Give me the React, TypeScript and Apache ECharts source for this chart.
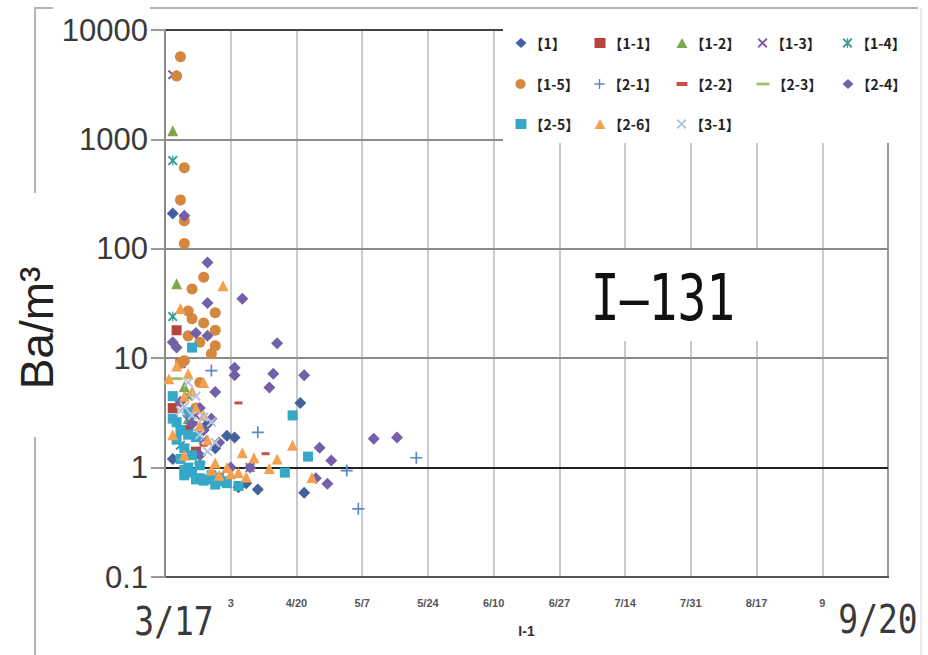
import React, { useEffect, useRef } from "react";
import * as echarts from "echarts";

// ---- data ----
const seriesNames = ["【1】", "【1-1】", "【1-2】", "【1-3】", "【1-4】", "【1-5】", "【2-1】", "【2-2】", "【2-3】", "【2-4】", "【2-5】", "【2-6】", "【3-1】"];

const s_1: [string, number][] = [["3/19", 210], ["3/19", 1.2], ["3/24", 3.2], ["3/26", 2.2], ["3/28", 2.5], ["3/30", 1.5], ["4/2", 1.95], ["4/4", 1.88], ["4/5", 0.66], ["4/7", 0.72], ["4/10", 0.63], ["4/21", 3.9], ["4/22", 0.59]];
const s_1_1: [string, number][] = [["3/19", 3.5], ["3/20", 18], ["3/21", 9], ["3/25", 1.4], ["3/23", 2.2]];
const s_1_2: [string, number][] = [["3/19", 1200], ["3/20", 48], ["3/23", 2.8], ["3/22", 5.5]];
const s_1_3: [string, number][] = [["3/19", 3900], ["3/25", 3.0], ["3/27", 1.8], ["4/8", 1.0]];
const s_1_4: [string, number][] = [["3/19", 640], ["3/19", 24], ["3/23", 4.5], ["3/21", 1.6]];
const s_1_5: [string, number][] = [["3/21", 5700], ["3/20", 3800], ["3/22", 550], ["3/21", 280], ["3/22", 180], ["3/22", 112], ["3/27", 55], ["3/24", 43], ["3/30", 26], ["3/24", 23], ["3/27", 21], ["3/30", 18], ["3/30", 13], ["3/29", 11], ["3/22", 9.5], ["3/26", 6], ["3/25", 3.5], ["3/23", 16], ["3/23", 27], ["3/26", 14], ["3/21", 9]];
const s_2_1: [string, number][] = [["3/24", 2.6], ["3/29", 7.7], ["4/10", 2.1], ["5/3", 0.94], ["5/6", 0.42], ["5/21", 1.23]];
const s_2_2: [string, number][] = [["3/27", 1.6], ["4/5", 3.9], ["4/12", 1.34]];
const s_2_3: [string, number][] = [["3/20", 6.5], ["3/26", 1.1], ["3/24", 1.9]];
const s_2_4: [string, number][] = [["3/22", 200], ["3/28", 75], ["4/6", 35], ["3/28", 32], ["3/25", 17], ["3/28", 16], ["3/20", 12.5], ["4/4", 8.2], ["4/4", 7], ["4/14", 7.2], ["4/13", 5.4], ["4/15", 13.7], ["3/30", 4.9], ["4/22", 7], ["5/10", 1.84], ["5/16", 1.88], ["4/26", 1.52], ["4/29", 1.16], ["4/25", 0.8], ["4/28", 0.71], ["3/24", 2.5], ["3/26", 3.5], ["3/29", 2.8], ["4/8", 1.0], ["3/19", 14], ["3/23", 3.0], ["3/27", 2.2], ["3/31", 1.7], ["3/21", 4.0], ["3/26", 1.3], ["4/3", 1.0]];
const s_2_5: [string, number][] = [["3/19", 4.5], ["3/20", 2.6], ["3/21", 2.2], ["3/22", 1.5], ["3/23", 1.0], ["3/23", 3.2], ["3/24", 12.5], ["3/24", 0.9], ["3/25", 1.9], ["3/26", 0.8], ["3/27", 0.76], ["3/29", 0.85], ["3/31", 0.81], ["4/2", 0.72], ["4/5", 0.68], ["4/17", 0.9], ["4/19", 3.0], ["4/23", 1.26], ["3/22", 0.95], ["3/25", 0.78], ["3/21", 1.2], ["3/22", 0.85], ["3/24", 1.3], ["3/26", 1.05], ["3/28", 0.78], ["3/20", 1.8], ["3/23", 2.0], ["4/1", 0.75], ["3/30", 0.7], ["3/19", 2.8]];
const s_2_6: [string, number][] = [["4/1", 46], ["3/21", 28.5], ["3/20", 8.5], ["3/23", 7.2], ["3/27", 6.0], ["3/25", 3.5], ["3/26", 2.4], ["3/28", 1.8], ["3/30", 1.1], ["4/3", 0.88], ["4/6", 1.37], ["4/9", 1.23], ["4/13", 0.98], ["4/15", 1.2], ["4/19", 1.6], ["4/24", 0.81], ["4/5", 0.9], ["3/18", 6.5], ["3/29", 0.95], ["3/22", 4.5], ["3/24", 5.0], ["3/27", 3.0], ["3/31", 0.85], ["4/2", 1.0], ["4/7", 0.82], ["3/19", 2.0], ["3/22", 1.3]];
const s_3_1: [string, number][] = [["3/23", 6], ["3/24", 3], ["3/25", 4.5], ["3/26", 2.0], ["3/28", 1.4], ["3/29", 2.6], ["3/22", 3.6], ["3/27", 2.9], ["3/30", 1.7], ["3/21", 3.3]];

const allSeries = [s_1, s_1_1, s_1_2, s_1_3, s_1_4, s_1_5, s_2_1, s_2_2, s_2_3, s_2_4, s_2_5, s_2_6, s_3_1];

const xTickLabels = ["", "3", "4/20", "5/7", "5/24", "6/10", "6/27", "7/14", "7/31", "8/17", "9", ""];
const yTickLabels = ["0.1", "1", "10", "100", "1000", "10000"];
const startLabel = "3/17";
const endLabel = "9/20";
const yName = "Ba/m³";
const xName = "I-1";
const nuclide = "I—131";

// ---- styles ----
const colors = ["#44609F", "#B5443F", "#7FA84A", "#7E5EAA", "#3C9D98", "#D4873E", "#5B87C7", "#C8504A", "#A3C16B", "#7260A8", "#35A8C8", "#F5A04E", "#B4C5DD"];
const X_PATH = "path://M0,1.4L1.4,0L5,3.6L8.6,0L10,1.4L6.4,5L10,8.6L8.6,10L5,6.4L1.4,10L0,8.6L3.6,5Z";
const STAR_PATH = "path://M0,1.4L1.4,0L5,3.6L8.6,0L10,1.4L6.4,5L10,8.6L8.6,10L5,6.4L1.4,10L0,8.6L3.6,5Z M4.4,0H5.6V10H4.4Z";
const PLUS_PATH = "path://M4.3,0H5.7V4.3H10V5.7H5.7V10H4.3V5.7H0V4.3H4.3Z";
const SDASH_PATH = "path://M0,0H8V3H0Z";
const LDASH_PATH = "path://M0,0H14V3H0Z";
const symbols = ["diamond", "rect", "triangle", X_PATH, STAR_PATH, "circle", PLUS_PATH, "rect", "rect", "diamond", "rect", "triangle", X_PATH];
const symbolSizes: any[] = [12, 10, 11, 10, 10, 11, 12, [8, 3], [12, 3], 12, 10, 11, 10];
const legendIcons = ["diamond", "rect", "triangle", X_PATH, STAR_PATH, "circle", PLUS_PATH, SDASH_PATH, LDASH_PATH, "diamond", "rect", "triangle", X_PATH];
const legendCx = [521, 600, 682, 763, 848];
const legendCy = [45, 86, 126];

const BASE = Date.UTC(2011, 2, 17);
const toDay = (md: string) => {
  const [m, d] = md.split("/").map(Number);
  return (Date.UTC(2011, m - 1, d) - BASE) / 86400000;
};

export default function App() {
  const ref = useRef<HTMLDivElement>(null);
  useEffect(() => {
    if (!ref.current) return;
    const chart = echarts.init(ref.current, undefined, { renderer: "svg" });
    const legends = seriesNames.map((name, i) => {
      const col = i % 5;
      const row = Math.floor(i / 5);
      const w = i === 8 ? 13 : 11;
      return {
        show: true,
        data: [{ name, icon: legendIcons[i] }],
        left: legendCx[col] - w / 2,
        top: legendCy[row] - 9,
        itemWidth: w,
        itemHeight: 10,
        itemGap: 0,
        padding: 0,
        selectedMode: false,
        z: 20,
        textStyle: { fontSize: 14, fontWeight: "bold", color: "#222", fontFamily: "Noto Sans CJK JP", padding: [0, 0, 0, -2] },
      };
    });
    const option: any = {
      animation: false,
      backgroundColor: "#ffffff",
      grid: { left: 165, right: 40, top: 30, bottom: 78, show: true, borderColor: "#454545", borderWidth: 2, backgroundColor: "transparent" },
      legend: legends,
      xAxis: {
        type: "value",
        min: 0,
        max: 187,
        interval: 17,
        name: xName,
        nameLocation: "middle",
        nameGap: 47,
        nameTextStyle: { fontSize: 14, fontWeight: "bold", color: "#333", fontFamily: "Liberation Sans" },
        axisLine: { show: true, lineStyle: { color: "#4a4a4a", width: 2 } },
        axisTick: { show: false },
        axisLabel: {
          fontSize: 11,
          fontWeight: "bold",
          color: "#555",
          fontFamily: "Liberation Sans",
          margin: 20,
          showMinLabel: true,
          showMaxLabel: true,
          formatter: (v: number) => xTickLabels[Math.round(v / 17)] ?? "",
        },
        splitLine: { show: true, lineStyle: { color: "#b8b8b8", width: 1.5 } },
      },
      yAxis: {
        type: "log",
        logBase: 10,
        min: 0.1,
        max: 10000,
        z: 1,
        axisLine: { show: true, lineStyle: { color: "#8a8a8a", width: 2 } },
        axisTick: { show: true, length: 14, lineStyle: { color: "#999", width: 2 } },
        axisLabel: {
          fontSize: 31,
          color: "#3a3a3a",
          fontFamily: "Liberation Sans",
          margin: 17,
          formatter: (v: number) => yTickLabels[Math.round(Math.log10(v)) + 1] ?? "",
        },
        splitLine: { show: true, lineStyle: { color: ["#555", "#222", "#8c8c8c", "#8c8c8c", "#8c8c8c", "#444"], width: 2 } },
      },
      series: allSeries.map((arr, i) => ({
        name: seriesNames[i],
        type: "scatter",
        symbol: symbols[i],
        symbolSize: symbolSizes[i],
        itemStyle: { color: colors[i], opacity: 1 },
        z: 2,
        data: arr.map(([d, v]) => [toDay(d), v]),
      })),
      graphic: [
        { type: "line", z: 1, shape: { x1: 150, y1: 8, x2: 918, y2: 8 }, style: { stroke: "#b4b4b4", lineWidth: 2 } },
        { type: "polyline", z: 1, shape: { points: [[53, 8], [35, 8], [35, 193]] }, style: { stroke: "#b4b4b4", lineWidth: 2, fill: "none" } },
        { type: "line", z: 1, shape: { x1: 35, y1: 437, x2: 35, y2: 655 }, style: { stroke: "#b4b4b4", lineWidth: 2 } },
        { type: "line", z: 1, shape: { x1: 921, y1: 8, x2: 921, y2: 655 }, style: { stroke: "#e2e2e2", lineWidth: 1.5 } },
        { type: "rect", z: 10, shape: { x: 503, y: 23, width: 416, height: 120 }, style: { fill: "#ffffff" } },
        { type: "rect", z: 10, shape: { x: 572, y: 250, width: 195, height: 91 }, style: { fill: "#ffffff" } },
        { type: "text", z: 11, x: 663, y: 297, scaleY: 1.35, style: { text: nuclide, fontSize: 48, fontFamily: "DejaVu Sans Mono", fill: "#111", align: "center", verticalAlign: "middle" } },
        { type: "text", z: 11, x: 37, y: 328, rotation: Math.PI / 2, style: { text: yName, fontSize: 46, fontFamily: "Liberation Sans", fill: "#222", align: "center", verticalAlign: "middle" } },
        { type: "text", z: 11, x: 174, y: 621, scaleY: 1.2, style: { text: startLabel, fontSize: 33, fontFamily: "DejaVu Sans Mono", fill: "#3a3a3a", align: "center", verticalAlign: "middle" } },
        { type: "text", z: 11, x: 878, y: 619, scaleY: 1.2, style: { text: endLabel, fontSize: 33, fontFamily: "DejaVu Sans Mono", fill: "#3a3a3a", align: "center", verticalAlign: "middle" } },
      ],
    };
    chart.setOption(option);
    return () => chart.dispose();
  }, []);
  return <div ref={ref} style={{ position: "fixed", left: 0, top: 0, width: 928, height: 655, background: "#fff" }} />;
}
